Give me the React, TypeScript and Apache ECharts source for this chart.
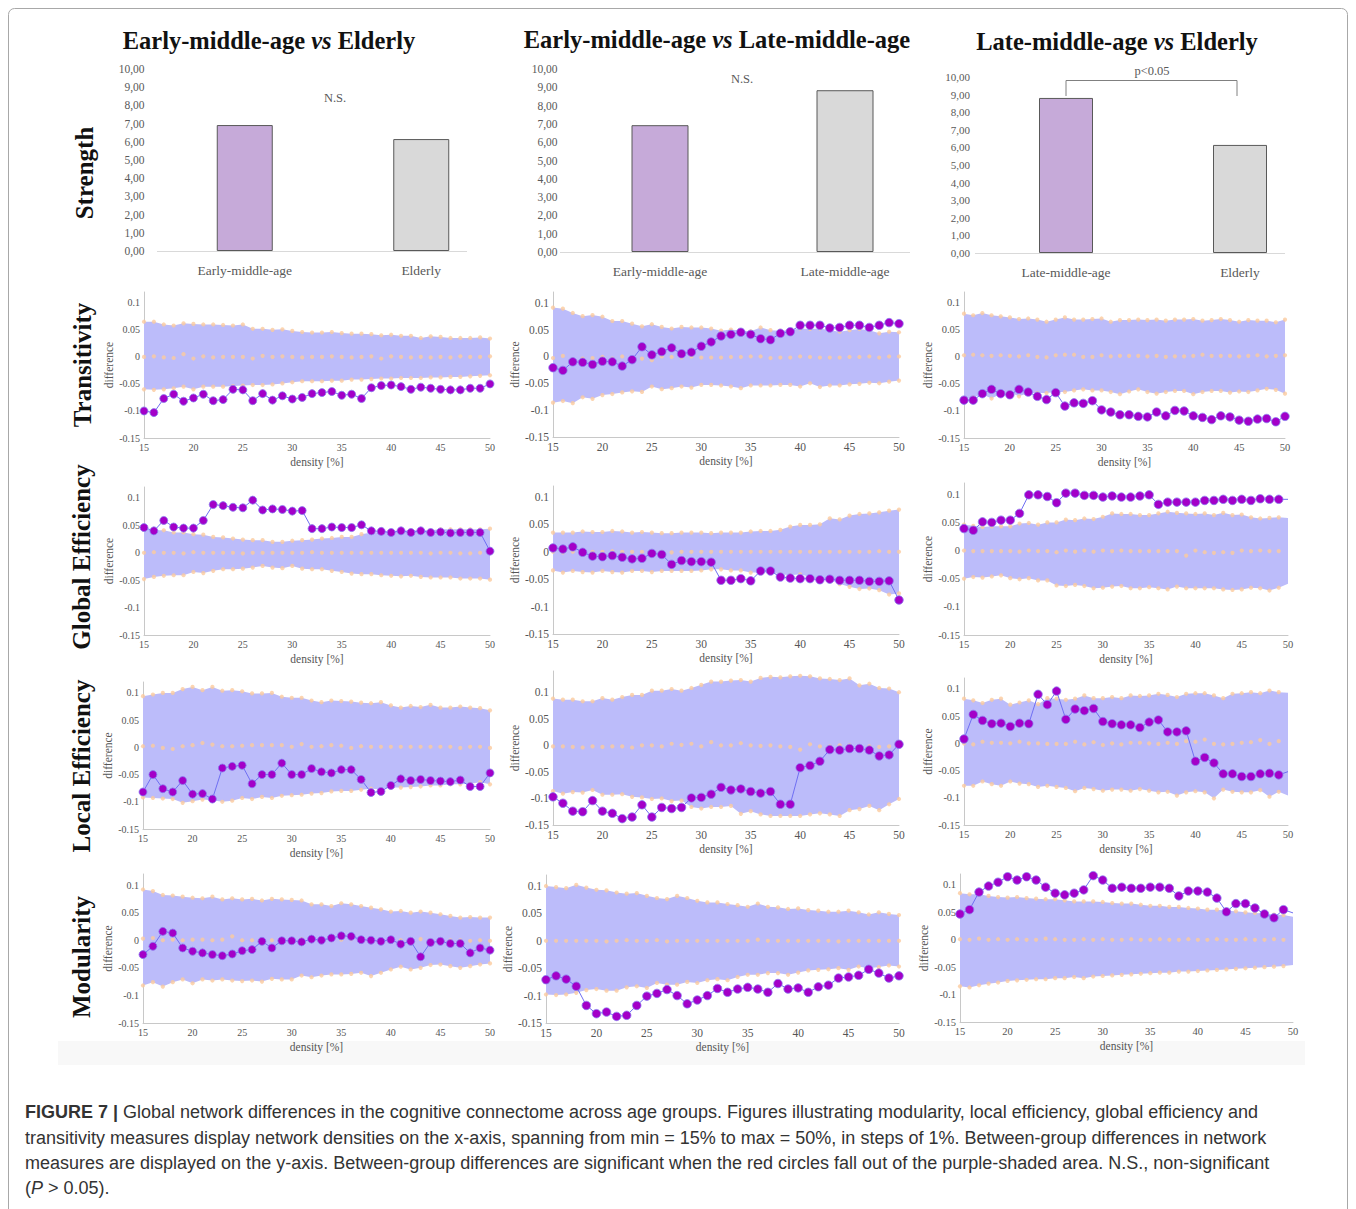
import React, { useEffect, useRef } from 'react';
import * as echarts from 'echarts';

// ---------------- DATA ----------------
const DENSITY = [15, 16, 17, 18, 19, 20, 21, 22, 23, 24, 25, 26, 27, 28, 29, 30, 31, 32, 33, 34, 35, 36, 37, 38, 39, 40, 41, 42, 43, 44, 45, 46, 47, 48, 49, 50];

// Strength bar charts
const BAR1_CATS = ['Early-middle-age', 'Elderly'];
const BAR1_VALUES = [6.92, 6.15];
const BAR2_CATS = ['Early-middle-age', 'Late-middle-age'];
const BAR2_VALUES = [6.93, 8.84];
const BAR3_CATS = ['Late-middle-age', 'Elderly'];
const BAR3_VALUES = [8.81, 6.14];

// Transitivity
const T1_OBS = [-0.100, -0.103, -0.077, -0.069, -0.082, -0.076, -0.069, -0.081, -0.079, -0.060, -0.061, -0.081, -0.068, -0.080, -0.072, -0.078, -0.075, -0.068, -0.066, -0.064, -0.071, -0.069, -0.077, -0.057, -0.053, -0.052, -0.055, -0.060, -0.056, -0.058, -0.060, -0.061, -0.061, -0.058, -0.058, -0.050];
const T1_UP = [0.065, 0.065, 0.060, 0.058, 0.062, 0.061, 0.060, 0.060, 0.059, 0.058, 0.060, 0.052, 0.052, 0.050, 0.051, 0.048, 0.046, 0.045, 0.045, 0.046, 0.044, 0.043, 0.043, 0.042, 0.040, 0.041, 0.039, 0.039, 0.035, 0.038, 0.037, 0.035, 0.035, 0.035, 0.036, 0.034];
const T1_LO = [-0.060, -0.061, -0.060, -0.058, -0.055, -0.060, -0.055, -0.055, -0.055, -0.054, -0.053, -0.052, -0.052, -0.051, -0.049, -0.047, -0.045, -0.045, -0.045, -0.044, -0.044, -0.042, -0.042, -0.041, -0.040, -0.040, -0.039, -0.039, -0.039, -0.038, -0.038, -0.037, -0.037, -0.036, -0.035, -0.034];
const T1_NULL = [0.000, 0.001, -0.001, -0.002, 0.005, -0.003, 0.001, -0.001, 0.000, 0.000, 0.000, -0.003, 0.002, 0.000, 0.001, 0.000, -0.001, 0.000, 0.000, 0.001, 0.000, -0.001, 0.000, 0.001, -0.003, 0.001, 0.000, -0.001, 0.000, -0.001, 0.000, -0.001, 0.001, 0.000, 0.000, 0.001];

const T2_OBS = [-0.021, -0.026, -0.010, -0.011, -0.015, -0.009, -0.010, -0.018, -0.006, 0.018, 0.003, 0.009, 0.016, 0.005, 0.008, 0.019, 0.027, 0.038, 0.041, 0.045, 0.041, 0.033, 0.031, 0.043, 0.046, 0.058, 0.058, 0.058, 0.053, 0.054, 0.058, 0.058, 0.054, 0.058, 0.063, 0.061];
const T2_UP = [0.091, 0.089, 0.081, 0.075, 0.077, 0.074, 0.066, 0.066, 0.061, 0.056, 0.060, 0.055, 0.052, 0.055, 0.054, 0.054, 0.052, 0.048, 0.050, 0.048, 0.047, 0.054, 0.049, 0.048, 0.049, 0.052, 0.051, 0.052, 0.049, 0.046, 0.049, 0.051, 0.049, 0.043, 0.046, 0.045];
const T2_LO = [-0.086, -0.083, -0.087, -0.076, -0.079, -0.072, -0.070, -0.067, -0.065, -0.066, -0.056, -0.061, -0.059, -0.056, -0.058, -0.053, -0.053, -0.054, -0.056, -0.059, -0.054, -0.054, -0.054, -0.053, -0.053, -0.056, -0.050, -0.057, -0.054, -0.054, -0.052, -0.051, -0.049, -0.050, -0.047, -0.045];
const T2_NULL = [-0.003, 0.001, -0.006, -0.004, -0.003, -0.001, -0.004, 0.000, -0.003, -0.004, -0.007, 0.000, -0.001, -0.002, 0.000, -0.002, -0.002, -0.002, -0.001, -0.001, 0.000, 0.000, -0.003, -0.002, -0.002, 0.000, -0.001, -0.002, -0.002, -0.002, -0.001, -0.001, 0.000, -0.002, 0.000, 0.000];

const T3_OBS = [-0.080, -0.080, -0.068, -0.060, -0.068, -0.070, -0.060, -0.065, -0.073, -0.079, -0.066, -0.091, -0.085, -0.086, -0.081, -0.098, -0.102, -0.107, -0.107, -0.110, -0.111, -0.102, -0.109, -0.099, -0.100, -0.109, -0.112, -0.116, -0.109, -0.111, -0.117, -0.119, -0.115, -0.114, -0.120, -0.110];
const T3_UP = [0.080, 0.077, 0.081, 0.077, 0.075, 0.073, 0.070, 0.071, 0.069, 0.065, 0.069, 0.073, 0.069, 0.069, 0.070, 0.071, 0.065, 0.068, 0.068, 0.069, 0.068, 0.069, 0.067, 0.069, 0.069, 0.070, 0.067, 0.068, 0.070, 0.068, 0.065, 0.068, 0.067, 0.067, 0.064, 0.069];
const T3_LO = [-0.077, -0.075, -0.069, -0.077, -0.068, -0.065, -0.073, -0.067, -0.067, -0.067, -0.065, -0.065, -0.062, -0.060, -0.062, -0.062, -0.065, -0.069, -0.064, -0.060, -0.065, -0.068, -0.065, -0.063, -0.063, -0.069, -0.065, -0.063, -0.063, -0.066, -0.064, -0.065, -0.062, -0.059, -0.061, -0.068];
const T3_NULL = [0.003, 0.004, 0.003, 0.002, 0.003, 0.002, 0.001, 0.003, 0.000, -0.001, 0.003, 0.004, 0.004, 0.000, 0.000, 0.003, 0.001, 0.002, 0.002, 0.002, 0.001, 0.002, 0.000, 0.001, 0.001, 0.002, 0.004, 0.002, 0.002, 0.002, 0.001, 0.002, 0.003, 0.001, 0.002, 0.003];

// Global efficiency
const G1_OBS = [0.046, 0.040, 0.059, 0.047, 0.045, 0.045, 0.059, 0.088, 0.086, 0.083, 0.082, 0.096, 0.078, 0.080, 0.079, 0.076, 0.077, 0.044, 0.044, 0.047, 0.046, 0.046, 0.051, 0.040, 0.039, 0.037, 0.040, 0.037, 0.040, 0.037, 0.038, 0.036, 0.037, 0.037, 0.037, 0.003];
const G1_UP = [0.043, 0.041, 0.041, 0.037, 0.037, 0.034, 0.033, 0.029, 0.028, 0.026, 0.024, 0.023, 0.023, 0.020, 0.020, 0.022, 0.023, 0.024, 0.026, 0.027, 0.029, 0.029, 0.034, 0.037, 0.038, 0.040, 0.040, 0.041, 0.041, 0.041, 0.043, 0.043, 0.043, 0.043, 0.043, 0.044];
const G1_LO = [-0.048, -0.044, -0.042, -0.041, -0.041, -0.035, -0.037, -0.033, -0.030, -0.030, -0.029, -0.027, -0.024, -0.027, -0.028, -0.024, -0.029, -0.030, -0.030, -0.033, -0.035, -0.038, -0.039, -0.039, -0.041, -0.042, -0.043, -0.042, -0.044, -0.045, -0.045, -0.045, -0.047, -0.047, -0.047, -0.049];
const G1_NULL = [0.000, 0.001, 0.000, 0.000, -0.001, 0.001, 0.000, 0.000, 0.000, 0.000, -0.001, 0.000, 0.000, 0.000, 0.000, 0.000, 0.000, 0.001, 0.000, 0.000, 0.000, 0.000, 0.000, 0.000, 0.000, 0.000, 0.000, 0.000, 0.000, -0.001, 0.000, 0.000, -0.001, -0.001, 0.000, 0.000];

const G2_OBS = [0.007, 0.005, 0.009, -0.001, -0.008, -0.009, -0.007, -0.010, -0.013, -0.012, -0.003, -0.005, -0.023, -0.016, -0.018, -0.018, -0.019, -0.052, -0.052, -0.049, -0.053, -0.035, -0.035, -0.046, -0.048, -0.049, -0.049, -0.051, -0.050, -0.052, -0.052, -0.052, -0.054, -0.054, -0.053, -0.088];
const G2_UP = [0.035, 0.035, 0.035, 0.037, 0.036, 0.036, 0.038, 0.037, 0.035, 0.036, 0.035, 0.034, 0.034, 0.035, 0.035, 0.035, 0.034, 0.035, 0.035, 0.035, 0.037, 0.038, 0.038, 0.040, 0.046, 0.049, 0.049, 0.050, 0.061, 0.059, 0.066, 0.069, 0.070, 0.072, 0.075, 0.077];
const G2_LO = [-0.034, -0.038, -0.035, -0.037, -0.038, -0.035, -0.037, -0.038, -0.035, -0.035, -0.037, -0.035, -0.035, -0.035, -0.035, -0.034, -0.032, -0.032, -0.034, -0.034, -0.038, -0.038, -0.038, -0.041, -0.043, -0.041, -0.046, -0.049, -0.050, -0.059, -0.064, -0.068, -0.067, -0.070, -0.078, -0.076];
const G2_NULL = [0.000, -0.001, 0.000, 0.000, 0.000, 0.000, 0.001, 0.000, 0.000, 0.000, 0.000, 0.000, -0.001, 0.000, 0.000, 0.000, 0.000, 0.000, 0.000, 0.000, 0.000, 0.000, 0.000, 0.000, 0.000, 0.000, 0.000, 0.000, 0.000, 0.000, 0.000, 0.000, 0.000, 0.001, 0.000, 0.000];

const G3_OBS = [0.039, 0.036, 0.051, 0.050, 0.054, 0.054, 0.066, 0.099, 0.099, 0.096, 0.085, 0.102, 0.102, 0.098, 0.098, 0.095, 0.097, 0.095, 0.095, 0.097, 0.099, 0.082, 0.086, 0.086, 0.086, 0.086, 0.089, 0.089, 0.091, 0.089, 0.091, 0.089, 0.092, 0.091, 0.091, 0.091];
const G3_UP = [0.046, 0.044, 0.042, 0.043, 0.043, 0.043, 0.048, 0.049, 0.046, 0.050, 0.050, 0.055, 0.054, 0.057, 0.056, 0.060, 0.066, 0.065, 0.065, 0.063, 0.063, 0.066, 0.069, 0.067, 0.066, 0.065, 0.066, 0.063, 0.067, 0.063, 0.064, 0.059, 0.057, 0.058, 0.059, 0.058];
const G3_LO = [-0.050, -0.047, -0.048, -0.046, -0.044, -0.049, -0.051, -0.049, -0.053, -0.053, -0.062, -0.063, -0.061, -0.063, -0.067, -0.066, -0.064, -0.063, -0.067, -0.067, -0.065, -0.067, -0.069, -0.064, -0.067, -0.067, -0.067, -0.067, -0.069, -0.070, -0.069, -0.066, -0.067, -0.071, -0.066, -0.059];
const G3_NULL = [0.000, -0.001, -0.001, -0.001, -0.001, -0.001, -0.002, 0.000, -0.001, -0.001, -0.003, 0.000, -0.002, 0.000, -0.002, 0.000, -0.001, 0.000, -0.001, -0.001, -0.001, -0.001, -0.001, -0.001, -0.009, 0.000, -0.003, -0.004, -0.003, -0.004, 0.000, -0.001, 0.000, -0.001, -0.001, 0.000];

// Local efficiency
const L1_OBS = [-0.082, -0.050, -0.076, -0.082, -0.061, -0.086, -0.085, -0.095, -0.038, -0.035, -0.033, -0.067, -0.050, -0.050, -0.029, -0.050, -0.050, -0.039, -0.045, -0.047, -0.041, -0.041, -0.059, -0.083, -0.081, -0.070, -0.058, -0.061, -0.059, -0.061, -0.062, -0.063, -0.060, -0.072, -0.072, -0.047];
const L1_UP = [0.094, 0.097, 0.100, 0.100, 0.107, 0.111, 0.105, 0.111, 0.104, 0.105, 0.103, 0.099, 0.099, 0.100, 0.093, 0.091, 0.091, 0.086, 0.083, 0.086, 0.085, 0.084, 0.082, 0.081, 0.083, 0.077, 0.073, 0.076, 0.074, 0.078, 0.073, 0.073, 0.075, 0.073, 0.072, 0.068];
const L1_LO = [-0.092, -0.093, -0.094, -0.095, -0.102, -0.099, -0.096, -0.097, -0.100, -0.098, -0.093, -0.095, -0.091, -0.093, -0.089, -0.088, -0.087, -0.085, -0.084, -0.081, -0.080, -0.080, -0.078, -0.076, -0.077, -0.074, -0.074, -0.073, -0.072, -0.070, -0.070, -0.068, -0.068, -0.067, -0.064, -0.068];
const L1_NULL = [0.002, 0.003, -0.001, -0.003, 0.002, 0.004, 0.008, 0.005, 0.002, 0.002, 0.003, 0.004, 0.004, 0.004, 0.004, 0.001, 0.006, 0.001, 0.002, 0.004, 0.003, -0.001, 0.002, 0.001, 0.001, 0.001, 0.001, 0.001, 0.001, 0.001, 0.001, 0.001, -0.001, 0.001, 0.001, -0.001];

const L2_OBS = [-0.097, -0.109, -0.124, -0.125, -0.104, -0.124, -0.128, -0.138, -0.135, -0.112, -0.135, -0.117, -0.119, -0.117, -0.099, -0.098, -0.092, -0.079, -0.084, -0.082, -0.087, -0.090, -0.087, -0.111, -0.111, -0.042, -0.038, -0.030, -0.008, -0.009, -0.006, -0.006, -0.009, -0.020, -0.018, 0.002];
const L2_UP = [0.088, 0.086, 0.086, 0.083, 0.083, 0.089, 0.086, 0.091, 0.095, 0.095, 0.103, 0.103, 0.106, 0.103, 0.108, 0.114, 0.120, 0.120, 0.122, 0.123, 0.120, 0.127, 0.129, 0.128, 0.130, 0.131, 0.130, 0.126, 0.125, 0.123, 0.126, 0.113, 0.116, 0.108, 0.107, 0.100];
const L2_LO = [-0.086, -0.091, -0.088, -0.089, -0.084, -0.093, -0.093, -0.092, -0.097, -0.098, -0.101, -0.100, -0.105, -0.104, -0.116, -0.119, -0.116, -0.116, -0.114, -0.129, -0.124, -0.130, -0.133, -0.133, -0.133, -0.133, -0.130, -0.128, -0.130, -0.133, -0.122, -0.120, -0.114, -0.122, -0.111, -0.101];
const L2_NULL = [-0.002, -0.002, -0.003, -0.004, -0.002, -0.003, -0.002, -0.002, -0.004, 0.000, 0.000, -0.002, 0.003, 0.001, 0.003, -0.002, 0.006, 0.000, 0.000, 0.004, 0.000, -0.001, 0.000, -0.002, -0.003, -0.008, 0.002, -0.002, -0.002, 0.000, 0.000, -0.002, -0.002, -0.003, -0.002, 0.000];

const L3_OBS = [0.008, 0.053, 0.042, 0.036, 0.037, 0.031, 0.037, 0.036, 0.090, 0.071, 0.096, 0.044, 0.063, 0.060, 0.064, 0.040, 0.036, 0.034, 0.034, 0.029, 0.039, 0.043, 0.021, 0.021, 0.023, -0.033, -0.026, -0.036, -0.056, -0.056, -0.061, -0.061, -0.056, -0.055, -0.058, -0.052];
const L3_UP = [0.082, 0.079, 0.074, 0.080, 0.082, 0.071, 0.075, 0.079, 0.072, 0.083, 0.082, 0.080, 0.082, 0.088, 0.083, 0.083, 0.085, 0.083, 0.088, 0.087, 0.088, 0.091, 0.089, 0.085, 0.091, 0.092, 0.092, 0.088, 0.083, 0.091, 0.092, 0.094, 0.092, 0.097, 0.094, 0.093];
const L3_LO = [-0.078, -0.078, -0.070, -0.075, -0.078, -0.070, -0.074, -0.075, -0.080, -0.078, -0.080, -0.082, -0.088, -0.082, -0.084, -0.087, -0.085, -0.085, -0.087, -0.084, -0.087, -0.090, -0.089, -0.096, -0.090, -0.088, -0.090, -0.101, -0.085, -0.089, -0.090, -0.090, -0.086, -0.098, -0.089, -0.096];
const L3_NULL = [0.000, -0.002, 0.003, 0.001, 0.001, 0.000, 0.003, 0.000, 0.000, -0.001, -0.001, -0.001, 0.003, -0.002, 0.002, -0.003, 0.000, -0.002, 0.001, 0.001, 0.000, -0.001, 0.001, -0.001, 0.004, 0.003, 0.007, -0.001, -0.002, -0.001, 0.001, 0.002, 0.006, -0.001, 0.004, 0.002];

// Modularity
const M1_OBS = [-0.026, -0.011, 0.016, 0.013, -0.014, -0.020, -0.023, -0.026, -0.028, -0.025, -0.019, -0.017, -0.002, -0.014, -0.001, -0.001, -0.003, 0.002, 0.000, 0.004, 0.008, 0.007, 0.001, 0.000, -0.002, 0.001, -0.007, -0.002, -0.030, -0.004, -0.002, -0.006, -0.006, -0.023, -0.014, -0.018];
const M1_UP = [0.092, 0.089, 0.082, 0.081, 0.079, 0.077, 0.076, 0.079, 0.074, 0.076, 0.074, 0.075, 0.072, 0.075, 0.074, 0.073, 0.072, 0.065, 0.065, 0.062, 0.067, 0.065, 0.062, 0.059, 0.056, 0.052, 0.053, 0.050, 0.052, 0.050, 0.047, 0.044, 0.041, 0.042, 0.041, 0.041];
const M1_LO = [-0.082, -0.076, -0.084, -0.076, -0.071, -0.078, -0.071, -0.073, -0.071, -0.073, -0.074, -0.073, -0.075, -0.070, -0.071, -0.071, -0.064, -0.067, -0.064, -0.062, -0.062, -0.061, -0.059, -0.065, -0.059, -0.053, -0.048, -0.053, -0.050, -0.045, -0.044, -0.047, -0.050, -0.047, -0.044, -0.042];
const M1_NULL = [0.003, 0.004, 0.000, 0.001, 0.000, 0.001, 0.001, 0.000, 0.001, 0.007, 0.000, 0.000, 0.000, 0.000, 0.000, 0.000, 0.002, 0.000, 0.000, 0.000, 0.001, 0.002, 0.000, 0.000, 0.000, 0.000, 0.000, 0.000, 0.002, 0.000, 0.000, 0.000, 0.000, -0.001, 0.000, -0.001];

const M2_OBS = [-0.071, -0.064, -0.070, -0.083, -0.118, -0.133, -0.130, -0.138, -0.136, -0.118, -0.101, -0.096, -0.089, -0.100, -0.115, -0.108, -0.100, -0.087, -0.094, -0.088, -0.085, -0.088, -0.094, -0.078, -0.088, -0.086, -0.094, -0.084, -0.081, -0.068, -0.066, -0.063, -0.052, -0.059, -0.068, -0.064];
const M2_UP = [0.100, 0.098, 0.096, 0.102, 0.097, 0.093, 0.092, 0.088, 0.086, 0.087, 0.082, 0.078, 0.076, 0.082, 0.078, 0.073, 0.070, 0.070, 0.067, 0.065, 0.062, 0.068, 0.062, 0.061, 0.058, 0.059, 0.056, 0.055, 0.053, 0.053, 0.055, 0.052, 0.048, 0.052, 0.049, 0.047];
const M2_LO = [-0.098, -0.099, -0.098, -0.095, -0.090, -0.088, -0.091, -0.091, -0.085, -0.083, -0.086, -0.077, -0.080, -0.080, -0.075, -0.077, -0.072, -0.070, -0.072, -0.066, -0.062, -0.062, -0.059, -0.059, -0.062, -0.058, -0.054, -0.053, -0.052, -0.050, -0.053, -0.047, -0.050, -0.048, -0.045, -0.047];
const M2_NULL = [0.000, 0.000, 0.000, 0.000, 0.000, 0.000, -0.001, 0.000, 0.001, 0.000, 0.000, 0.001, -0.001, 0.000, 0.000, 0.000, 0.000, 0.000, 0.000, 0.000, 0.000, 0.002, 0.000, 0.000, 0.000, 0.000, 0.000, 0.000, 0.000, -0.001, 0.000, 0.000, 0.000, 0.000, 0.000, 0.000];

const M3_OBS = [0.047, 0.055, 0.087, 0.098, 0.105, 0.115, 0.109, 0.115, 0.109, 0.096, 0.085, 0.082, 0.085, 0.091, 0.117, 0.109, 0.094, 0.096, 0.094, 0.094, 0.096, 0.096, 0.094, 0.080, 0.089, 0.089, 0.087, 0.076, 0.051, 0.066, 0.066, 0.058, 0.047, 0.040, 0.055, 0.049];
const M3_UP = [0.085, 0.083, 0.083, 0.080, 0.078, 0.077, 0.078, 0.076, 0.075, 0.074, 0.074, 0.072, 0.070, 0.070, 0.070, 0.069, 0.067, 0.066, 0.066, 0.064, 0.062, 0.062, 0.060, 0.060, 0.058, 0.057, 0.055, 0.055, 0.053, 0.052, 0.050, 0.049, 0.048, 0.046, 0.045, 0.042];
const M3_LO = [-0.085, -0.087, -0.083, -0.080, -0.078, -0.075, -0.074, -0.073, -0.072, -0.072, -0.070, -0.070, -0.068, -0.070, -0.067, -0.066, -0.065, -0.064, -0.063, -0.062, -0.061, -0.060, -0.060, -0.058, -0.058, -0.057, -0.056, -0.055, -0.054, -0.053, -0.052, -0.051, -0.050, -0.049, -0.048, -0.046];
const M3_NULL = [0.001, 0.000, 0.002, 0.000, 0.001, 0.000, 0.001, 0.000, 0.000, 0.002, 0.001, 0.000, 0.000, 0.001, 0.000, 0.001, 0.000, 0.000, 0.001, 0.000, 0.000, 0.001, 0.000, 0.000, 0.001, 0.000, 0.000, 0.001, 0.000, 0.000, 0.001, 0.000, 0.000, 0.001, 0.000, 0.001];

// ---------------- LAYOUT & STYLE ----------------
const SERIF = '"Liberation Serif", "Times New Roman", serif';
const SANS = '"Liberation Sans", Arial, sans-serif';
const BAND = '#bcbcfa';
const PEACH = '#fbcb9e';
const PURPLE = '#a300c8';
const LINK = '#6f6ff2';
const AXIS = '#c8c8c8';
const TICK = '#555555';
const BAR_COLORS = ['#c6aad9', '#d9d9d9'];

const BAR_PANELS = [
  { cats: BAR1_CATS, vals: BAR1_VALUES, left: 156.5, top: 69, width: 353, height: 182, fs: 11.5, margin: 12, barWidth: 56 },
  { cats: BAR2_CATS, vals: BAR2_VALUES, left: 567.5, top: 69, width: 370, height: 183, fs: 11.5, margin: 10, barWidth: 57 },
  { cats: BAR3_CATS, vals: BAR3_VALUES, left: 979, top: 77, width: 348, height: 176, fs: 11, margin: 9, barWidth: 54 },
];

const LINE_PANELS = [
  { obs: T1_OBS, up: T1_UP, lo: T1_LO, nul: T1_NULL, left: 144, top: 292, width: 346, height: 146, max: 0.12, fs: 10, ms: 8, hideLast: false },
  { obs: T2_OBS, up: T2_UP, lo: T2_LO, nul: T2_NULL, left: 553, top: 292, width: 346, height: 145, max: 0.12, fs: 11.5, ms: 8.5, hideLast: false },
  { obs: T3_OBS, up: T3_UP, lo: T3_LO, nul: T3_NULL, left: 964, top: 292, width: 321, height: 146, max: 0.12, fs: 10.5, ms: 8.5, hideLast: false },
  { obs: G1_OBS, up: G1_UP, lo: G1_LO, nul: G1_NULL, left: 144, top: 487, width: 346, height: 148, max: 0.12, fs: 10, ms: 8, hideLast: false },
  { obs: G2_OBS, up: G2_UP, lo: G2_LO, nul: G2_NULL, left: 553, top: 486, width: 346, height: 148, max: 0.12, fs: 11.5, ms: 8.5, hideLast: false },
  { obs: G3_OBS, up: G3_UP, lo: G3_LO, nul: G3_NULL, left: 964, top: 483, width: 324, height: 152, max: 0.12, fs: 10.5, ms: 8.5, hideLast: true },
  { obs: L1_OBS, up: L1_UP, lo: L1_LO, nul: L1_NULL, left: 143, top: 682, width: 347, height: 147, max: 0.12, fs: 10, ms: 8, hideLast: false },
  { obs: L2_OBS, up: L2_UP, lo: L2_LO, nul: L2_NULL, left: 553, top: 671, width: 346, height: 154, max: 0.14, fs: 11.5, ms: 8.5, hideLast: false },
  { obs: L3_OBS, up: L3_UP, lo: L3_LO, nul: L3_NULL, left: 964, top: 678, width: 324, height: 147, max: 0.12, fs: 10.5, ms: 8.5, hideLast: true },
  { obs: M1_OBS, up: M1_UP, lo: M1_LO, nul: M1_NULL, left: 143, top: 874, width: 347, height: 149, max: 0.12, fs: 10, ms: 8, hideLast: false },
  { obs: M2_OBS, up: M2_UP, lo: M2_LO, nul: M2_NULL, left: 546, top: 875, width: 353, height: 148, max: 0.12, fs: 11.5, ms: 8.5, hideLast: false },
  { obs: M3_OBS, up: M3_UP, lo: M3_LO, nul: M3_NULL, left: 960, top: 874, width: 333, height: 148, max: 0.12, fs: 10.5, ms: 8.5, hideLast: true },
];

const fmtDiff = (v: number) => {
  const k = Math.round(v / 0.05);
  if (Math.abs(k * 0.05 - v) > 1e-6) return '';
  return String(Math.round(v * 100) / 100);
};

function txt(text: string, x: number, y: number, extra: any = {}, el: any = {}) {
  return {
    type: 'text',
    silent: true,
    ...el,
    style: {
      text, x, y,
      fontFamily: SERIF, fontSize: 12, fill: TICK,
      align: 'center', verticalAlign: 'middle',
      textAlign: 'center', textVerticalAlign: 'middle',
      ...extra,
    },
  };
}

function buildOption() {
  const grid: any[] = [];
  const xAxis: any[] = [];
  const yAxis: any[] = [];
  const series: any[] = [];

  BAR_PANELS.forEach((p) => {
    const gi = grid.length;
    grid.push({ left: p.left, top: p.top, width: p.width, height: p.height });
    xAxis.push({
      gridIndex: gi, type: 'category', data: p.cats,
      axisLine: { show: false }, axisTick: { show: false },
      axisLabel: { fontFamily: SERIF, fontSize: 13.5, color: '#595959', margin: 12 },
    });
    yAxis.push({
      gridIndex: gi, type: 'value', min: 0, max: 10, interval: 1,
      splitLine: { show: false }, axisLine: { show: false }, axisTick: { show: false },
      axisLabel: {
        fontFamily: SERIF, fontSize: p.fs, color: '#595959', margin: p.margin,
        formatter: (v: number) => v.toFixed(2).replace('.', ','),
      },
    });
    series.push({
      type: 'bar', xAxisIndex: gi, yAxisIndex: gi, barWidth: p.barWidth,
      data: p.vals.map((v, j) => ({ value: v, itemStyle: { color: BAR_COLORS[j] } })),
      itemStyle: { borderColor: '#595959', borderWidth: 1 },
      silent: true,
    });
  });

  LINE_PANELS.forEach((p) => {
    const gi = grid.length;
    grid.push({ left: p.left, top: p.top, width: p.width, height: p.height });
    xAxis.push({
      gridIndex: gi, type: 'value', min: 15, max: 50, interval: 5,
      name: 'density [%]', nameLocation: 'middle', nameGap: 18,
      nameTextStyle: { fontFamily: SERIF, fontSize: 11.5, color: TICK },
      axisLine: { show: true, onZero: false, lineStyle: { color: AXIS, width: 1 } },
      axisTick: { show: false }, splitLine: { show: false },
      axisLabel: { fontFamily: SERIF, fontSize: p.fs, color: TICK, margin: 4 },
    });
    yAxis.push({
      gridIndex: gi, type: 'value', min: -0.15, max: p.max, interval: 0.05,
      name: 'difference', nameLocation: 'middle', nameGap: 27,
      nameTextStyle: { fontFamily: SERIF, fontSize: 11.5, color: TICK },
      axisLine: { show: true, onZero: false, lineStyle: { color: AXIS, width: 1 } },
      axisTick: { show: false }, splitLine: { show: false },
      axisLabel: { fontFamily: SERIF, fontSize: p.fs, color: TICK, margin: 4, formatter: fmtDiff },
    });
    // null-distribution band drawn as one polygon through the axes' scales
    series.push({
      type: 'custom', xAxisIndex: gi, yAxisIndex: gi, silent: true, z: 1,
      data: [[15, 0]],
      renderItem: (_params: any, api: any) => {
        const top = DENSITY.map((d, k) => api.coord([d, p.up[k]]));
        const bottom = DENSITY.map((d, k) => api.coord([d, p.lo[k]])).reverse();
        return { type: 'polygon', shape: { points: top.concat(bottom) }, style: { fill: BAND } };
      },
    });
    const n = p.hideLast ? DENSITY.length - 1 : DENSITY.length;
    const dots: number[][] = [];
    for (let k = 0; k < n; k++) {
      dots.push([DENSITY[k], p.up[k]]);
      dots.push([DENSITY[k], p.lo[k]]);
      dots.push([DENSITY[k], p.nul[k]]);
    }
    series.push({
      type: 'scatter', xAxisIndex: gi, yAxisIndex: gi, data: dots,
      symbolSize: 4.2, itemStyle: { color: PEACH }, silent: true, z: 2,
    });
    series.push({
      type: 'line', xAxisIndex: gi, yAxisIndex: gi,
      data: DENSITY.map((d, k) => (p.hideLast && k === DENSITY.length - 1)
        ? { value: [d, p.obs[k]], symbol: 'none' }
        : [d, p.obs[k]]),
      symbol: 'circle', symbolSize: p.ms, showAllSymbol: true,
      itemStyle: { color: PURPLE, borderColor: '#8a7cf0', borderWidth: 0.8 },
      lineStyle: { color: LINK, width: 1 },
      silent: true, z: 3,
    });
  });

  const titleRich = {
    t: { fontFamily: SERIF, fontSize: 24.5, fontWeight: 'bold', fill: '#111', color: '#111' },
    ti: { fontFamily: SERIF, fontSize: 24.5, fontWeight: 'bold', fontStyle: 'italic', fill: '#111', color: '#111' },
  };
  const rowStyle = { fontSize: 25, fontWeight: 'bold', fill: '#111' };

  const graphic: any[] = [
    { type: 'rect', silent: true, z: -2, shape: { x: 8.5, y: 8.5, width: 1339, height: 1230, r: 6 }, style: { fill: 'none', stroke: '#a8a8a8', lineWidth: 1 } },
    { type: 'rect', silent: true, z: -1, shape: { x: 58, y: 1041, width: 1247, height: 24 }, style: { fill: '#f8f8f8' } },
    // bar chart baselines
    { type: 'line', silent: true, shape: { x1: 157, y1: 251.5, x2: 467, y2: 251.5 }, style: { stroke: '#d9d9d9', lineWidth: 1 } },
    { type: 'line', silent: true, shape: { x1: 560, y1: 252.5, x2: 910, y2: 252.5 }, style: { stroke: '#d9d9d9', lineWidth: 1 } },
    { type: 'line', silent: true, shape: { x1: 975, y1: 253.5, x2: 1285, y2: 253.5 }, style: { stroke: '#d9d9d9', lineWidth: 1 } },
    // significance annotations
    txt('N.S.', 335, 98, { fontSize: 12.5, fill: '#595959' }),
    txt('N.S.', 742, 79, { fontSize: 12.5, fill: '#595959' }),
    txt('p<0.05', 1152, 71, { fontSize: 12.5, fill: '#595959' }),
    { type: 'polyline', silent: true, shape: { points: [[1066, 96], [1066, 80.5], [1237, 80.5], [1237, 96]] }, style: { stroke: '#808080', lineWidth: 1, fill: 'none' } },
    // column titles
    txt('{t|Early-middle-age }{ti|vs}{t| Elderly}', 269, 40, { fill: '#111', rich: titleRich }),
    txt('{t|Early-middle-age }{ti|vs}{t| Late-middle-age}', 717, 39, { fill: '#111', rich: titleRich }),
    txt('{t|Late-middle-age }{ti|vs}{t| Elderly}', 1117, 41, { fill: '#111', rich: titleRich }),
    // row labels
    txt('Strength', 0, 0, rowStyle, { x: 84, y: 173, rotation: Math.PI / 2 }),
    txt('Transitivity', 0, 0, rowStyle, { x: 82, y: 365, rotation: Math.PI / 2 }),
    txt('Global Efficiency', 0, 0, rowStyle, { x: 81, y: 557, rotation: Math.PI / 2 }),
    txt('Local Efficiency', 0, 0, rowStyle, { x: 81, y: 766, rotation: Math.PI / 2 }),
    txt('Modularity', 0, 0, rowStyle, { x: 81, y: 957, rotation: Math.PI / 2 }),
  ];

  const capStyle = { fontFamily: SANS, fontSize: 18, fill: '#333', align: 'left', textAlign: 'left' };
  const capRich = {
    b: { fontFamily: SANS, fontSize: 18, fontWeight: 'bold', fill: '#333', color: '#333' },
    i: { fontFamily: SANS, fontSize: 18, fontStyle: 'italic', fill: '#333', color: '#333' },
  };
  const CAPTION = [
    '{b|FIGURE 7 |} Global network differences in the cognitive connectome across age groups. Figures illustrating modularity, local efficiency, global efficiency and',
    'transitivity measures display network densities on the x-axis, spanning from min = 15% to max = 50%, in steps of 1%. Between-group differences in network',
    'measures are displayed on the y-axis. Between-group differences are significant when the red circles fall out of the purple-shaded area. N.S., non-significant',
    '({i|P} > 0.05).',
  ];
  const capY = [1112, 1138, 1163, 1188];
  CAPTION.forEach((line, k) => {
    graphic.push(txt(line, 25, capY[k], { ...capStyle, rich: capRich }));
  });

  return {
    animation: false,
    backgroundColor: '#ffffff',
    grid, xAxis, yAxis, series, graphic,
  };
}

export default function App() {
  const ref = useRef<HTMLDivElement>(null);
  useEffect(() => {
    const chart = echarts.init(ref.current as HTMLDivElement, null, { renderer: 'svg' });
    chart.setOption(buildOption() as any);
    return () => chart.dispose();
  }, []);
  return (
    <div
      ref={ref}
      style={{ position: 'absolute', left: 0, top: 0, width: 1356, height: 1209, background: '#fff' }}
    />
  );
}
